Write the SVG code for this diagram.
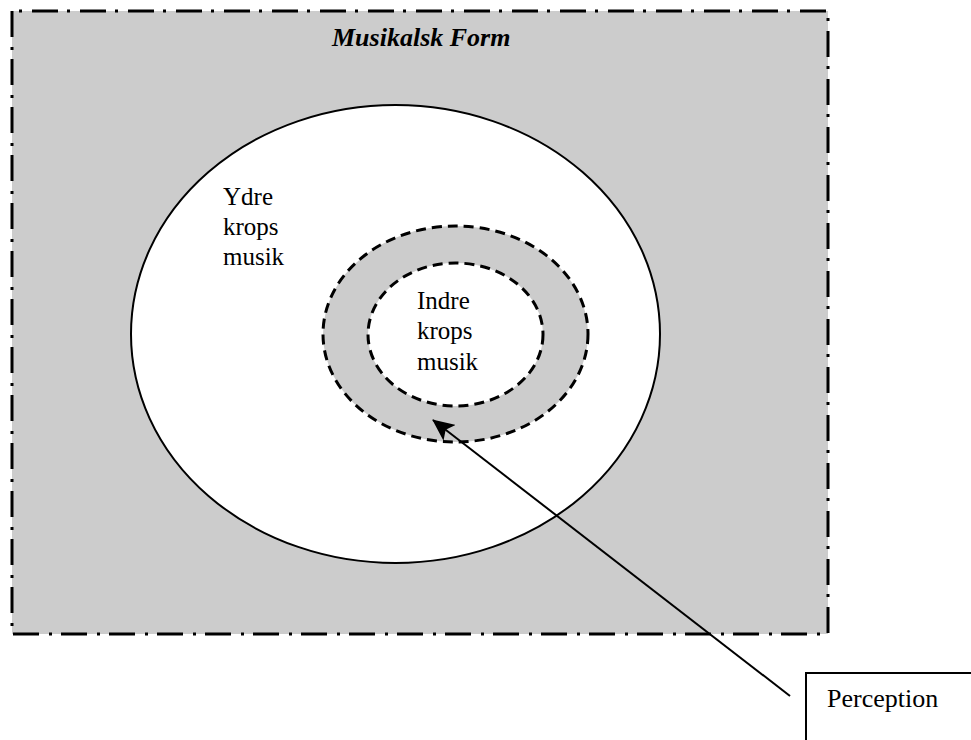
<svg xmlns="http://www.w3.org/2000/svg" width="971" height="740" viewBox="0 0 971 740">
  <style>
    .lbl { font-family: "Liberation Serif", "Times New Roman", serif; font-size: 25px; fill: #000; }
    .title { font-family: "Liberation Serif", "Times New Roman", serif; font-size: 26px; font-weight: bold; font-style: italic; fill: #000; }
    .dashed { stroke: #000; stroke-width: 3; stroke-dasharray: 10 6; }
  </style>
  <defs>
    <marker id="arrowhead" viewBox="0 0 22 20" refX="21" refY="10" markerWidth="22" markerHeight="20" markerUnits="userSpaceOnUse" orient="auto">
      <path d="M0,0 L22,10 L0,20 L5,10 Z" fill="#000"/>
    </marker>
  </defs>

  <rect width="971" height="740" fill="#fff"/>

  <!-- musical form frame -->
  <g id="musikalsk-form">
    <path d="M12,11 V634 H828 V11 Z" fill="#cccccc" stroke="#000" stroke-width="3" stroke-dasharray="26 10 3 9"/>
    <text class="title" x="332" y="46">Musikalsk Form</text>
  </g>

  <!-- outer body music -->
  <g id="ydre-krops-musik">
    <ellipse cx="395.5" cy="334" rx="264.5" ry="229" fill="#fff" stroke="#000" stroke-width="2"/>
    <text class="lbl" x="223" y="205">Ydre</text>
    <text class="lbl" x="223" y="235">krops</text>
    <text class="lbl" x="223" y="265">musik</text>
  </g>

  <!-- perception ring -->
  <g id="perception-ring">
    <ellipse class="dashed" cx="455.5" cy="334" rx="132.5" ry="108" fill="#cccccc"/>
  </g>

  <!-- inner body music -->
  <g id="indre-krops-musik">
    <ellipse class="dashed" cx="455.5" cy="334.5" rx="87.5" ry="71.5" fill="#fff"/>
    <text class="lbl" x="417" y="309">Indre</text>
    <text class="lbl" x="417" y="339">krops</text>
    <text class="lbl" x="417" y="370">musik</text>
  </g>

  <!-- perception label box -->
  <g id="perception">
    <rect x="806" y="673" width="200" height="100" fill="#fff" stroke="#000" stroke-width="2"/>
    <text class="lbl" x="827" y="707" style="font-size:26px">Perception</text>
  </g>

  <!-- connectors -->
  <g id="connectors">
    <line x1="790" y1="696" x2="433" y2="420" stroke="#000" stroke-width="2" marker-end="url(#arrowhead)"/>
  </g>
</svg>
